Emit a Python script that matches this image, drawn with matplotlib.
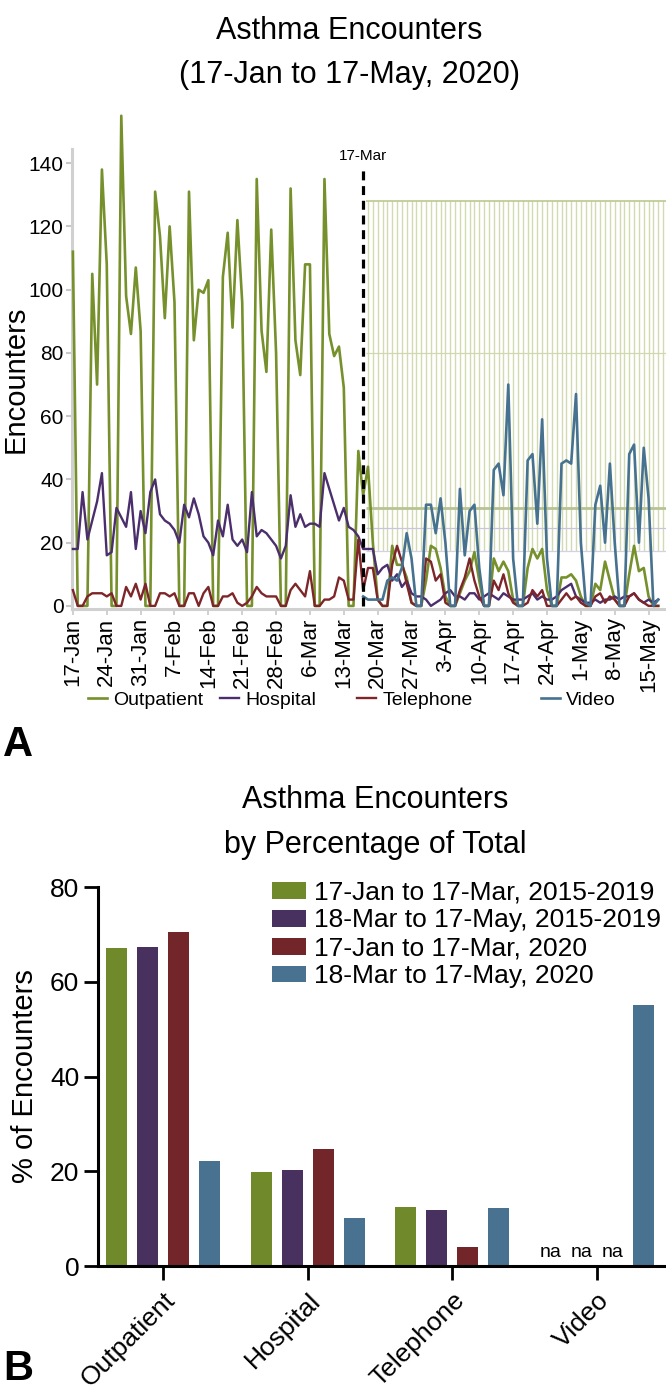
import numpy as np
import matplotlib
matplotlib.use("Agg")
import matplotlib.pyplot as plt

plt.rcParams['font.family'] = ['Liberation Sans', 'DejaVu Sans']

# Panel A: daily asthma encounters, day 0 = 17-Jan-2020, last day = 17-May-2020
outpatient = [112, 0, 0, 0, 105, 70, 138,
              108, 0, 0, 155, 98, 86, 107,
              87, 0, 0, 131, 117, 91, 120,
              96, 0, 0, 131, 84, 100, 99,
              103, 0, 0, 104, 118, 88, 122,
              96, 0, 0, 135, 87, 74, 119,
              80, 0, 0, 132, 84, 73, 108,
              108, 0, 0, 135, 86, 79, 82,
              69, 0, 0, 49, 35, 44, 20,
              2, 0, 0, 19, 13, 13, 9,
              1, 0, 0, 8, 19, 18, 12,
              3, 0, 0, 4, 8, 11, 17,
              8, 0, 0, 15, 11, 14, 11,
              2, 0, 0, 12, 18, 15, 18,
              5, 0, 0, 9, 9, 10, 8,
              3, 0, 0, 7, 5, 14, 8,
              2, 0, 0, 10, 19, 11, 12,
              3, 0, 0]
hospital = [18, 18, 36, 21, 27, 33, 42,
            16, 17, 31, 28, 25, 36, 18,
            30, 23, 36, 40, 29, 27, 26,
            24, 20, 32, 28, 34, 29, 22,
            20, 16, 27, 22, 32, 21, 19,
            21, 17, 36, 22, 24, 23, 21,
            19, 15, 19, 35, 25, 29, 25,
            26, 26, 25, 42, 37, 32, 27,
            31, 25, 24, 22, 18, 18, 18,
            10, 12, 13, 8, 10, 6, 8,
            4, 3, 3, 2, 0, 1, 2,
            4, 5, 3, 3, 2, 4, 4,
            2, 3, 4, 3, 2, 4, 3,
            2, 2, 2, 3, 4, 2, 3,
            2, 2, 3, 5, 6, 7, 3,
            2, 1, 1, 2, 1, 2, 2,
            3, 2, 3, 3, 4, 2, 1,
            2, 1, 2]
telephone = [5, 0, 0, 3, 4, 4, 4,
             3, 4, 0, 0, 6, 3, 7,
             2, 7, 0, 0, 4, 4, 3,
             4, 0, 0, 4, 4, 0, 4,
             6, 0, 0, 3, 3, 4, 1,
             0, 1, 3, 6, 4, 3, 3,
             3, 0, 0, 5, 7, 5, 3,
             11, 0, 0, 2, 2, 3, 9,
             8, 2, 2, 21, 5, 12, 12,
             2, 0, 0, 13, 19, 14, 7,
             1, 0, 0, 15, 14, 8, 10,
             1, 0, 0, 5, 9, 15, 8,
             3, 0, 0, 8, 5, 10, 4,
             1, 0, 0, 1, 5, 3, 5,
             0, 0, 0, 2, 4, 2, 3,
             1, 0, 0, 3, 4, 1, 3,
             2, 0, 0, 3, 4, 2, 1,
             0, 0, 0]
# video visits only exist from 17-Mar (day 60) on
video_start = 60
video = [3, 2, 2, 2, 2, 8, 9,
         8, 12, 23, 15, 0, 0, 32,
         32, 23, 34, 20, 0, 0, 37,
         16, 30, 32, 12, 0, 0, 43,
         45, 35, 70, 15, 0, 0, 46,
         48, 26, 59, 15, 0, 0, 45,
         46, 45, 67, 20, 1, 0, 32,
         38, 20, 45, 20, 0, 0, 48,
         51, 20, 50, 34, 0, 2]

tick_labels = ["17-Jan", "24-Jan", "31-Jan", "7-Feb", "14-Feb", "21-Feb", "28-Feb",
               "6-Mar", "13-Mar", "20-Mar", "27-Mar", "3-Apr", "10-Apr", "17-Apr",
               "24-Apr", "1-May", "8-May", "15-May"]

# Panel B: percentage of total encounters
categories = ["Outpatient", "Hospital", "Telephone", "Video"]
period_labels = ["17-Jan to 17-Mar, 2015-2019", "18-Mar to 17-May, 2015-2019",
                 "17-Jan to 17-Mar, 2020", "18-Mar to 17-May, 2020"]
pct_jan_mar_1519 = [67.2, 19.9, 12.5, np.nan]
pct_mar_may_1519 = [67.4, 20.3, 11.9, np.nan]
pct_jan_mar_2020 = [70.5, 24.8, 4.1, np.nan]
pct_mar_may_2020 = [22.1, 10.1, 12.2, 55.2]

green = '#76902c'
purple = '#4b2e6c'
red = '#7d2528'
blue = '#46728f'

fig = plt.figure(figsize=(6.66, 13.96), dpi=100)

# ---------------- panel A ----------------
ax = fig.add_axes([0.108, 0.5637, 0.892, 0.3296])
days = np.arange(len(outpatient))

# faint leftover grid on the right side of the original figure
ax.vlines(np.arange(61, 123), 17.3, 128, colors='#d2dab2', lw=1.0, zorder=0)
ax.hlines(128, 60.6, 123, colors='#b4c385', lw=1.1, zorder=0)
ax.hlines(80, 60.6, 123, colors='#cfd8ae', lw=0.9, zorder=0)
ax.hlines(31, 60.6, 123, colors='#b7c394', lw=2.0, zorder=0)
ax.hlines(24.5, 60.6, 123, colors='#cbc4de', lw=0.9, zorder=0)
ax.hlines(17.3, 60.6, 123, colors='#d5d0e4', lw=0.9, zorder=0)

lines = []
lines += ax.plot(days, outpatient, color=green, lw=1.9, label='Outpatient', zorder=3)
lines += ax.plot(days, hospital, color=purple, lw=1.7, label='Hospital', zorder=3)
lines += ax.plot(days, telephone, color=red, lw=1.7, label='Telephone', zorder=4)
lines += ax.plot(days[video_start:], video, color=blue, lw=1.9, label='Video', zorder=5)
for ln in lines:
    ln.set_clip_on(False)   # the 155 peak pokes above the axis in the original

# 17-Mar marker
ax.vlines(video_start, 0, 139, colors='black', lw=2.3, linestyles=(0, (2.8, 1.8)), zorder=6)
ax.text(video_start, 142.3, "17-Mar", ha='center', va='center', fontsize=11)

ax.set_xlim(-0.2, 122.6)
ax.set_ylim(-1, 144.5)
ax.set_yticks(np.arange(0, 141, 20))
ax.set_xticks(np.arange(0, 7 * len(tick_labels), 7))
ax.set_xticklabels(tick_labels, rotation=90)
ax.tick_params(axis='y', labelsize=15, color='#c8c8c8', length=4, width=1.5, pad=2)
ax.tick_params(axis='x', labelsize=16, color='#c8c8c8', length=4, width=1.2, pad=2)
for side in ['top', 'right']:
    ax.spines[side].set_visible(False)
for side in ['left', 'bottom']:
    ax.spines[side].set_color('#d0d0d0')
    ax.spines[side].set_linewidth(2.2)
ax.set_ylabel("Encounters", fontsize=21)
ax.yaxis.set_label_coords(-0.072, 0.5)

# one legend per entry so the uneven spacing of the original can be kept
legend_x = [88, 220, 357, 541]
for ln, lx in zip(lines, legend_x):
    fig.legend([ln], [ln.get_label()], loc='center left', bbox_to_anchor=(lx / 666, 0.4986),
               frameon=False, fontsize=14, handlelength=1.0, handletextpad=0.3,
               borderpad=0, borderaxespad=0)

fig.text(0.525, 0.978, "Asthma Encounters", ha='center', va='center', fontsize=22)
fig.text(0.525, 0.946, "(17-Jan to 17-May, 2020)", ha='center', va='center', fontsize=22)
fig.text(0.005, 0.466, "A", ha='left', va='center', fontsize=30, fontweight='bold')

# ---------------- panel B ----------------
bx = fig.add_axes([0.147, 0.0931, 0.853, 0.2715])
x = np.arange(len(categories))
pitch = 0.2145
width = 0.145
series = [pct_jan_mar_1519, pct_mar_may_1519, pct_jan_mar_2020, pct_mar_may_2020]
colors = ['#6f892b', '#48305f', '#732629', '#48728f']
for i, (vals, col, lab) in enumerate(zip(series, colors, period_labels)):
    pos = x + (i - 1.5) * pitch
    bx.bar(pos, np.nan_to_num(vals), width=width, color=col, label=lab)
    for p, v in zip(pos, vals):
        if np.isnan(v):
            bx.text(p, 1.0, "na", ha='center', va='bottom', fontsize=14)

bx.set_xlim(-0.453, 3.478)
bx.set_ylim(0, 80)
bx.set_yticks([0, 20, 40, 60, 80])
bx.set_xticks(x)
bx.set_xticklabels(categories, rotation=45, ha='right', rotation_mode='anchor')
bx.tick_params(axis='both', labelsize=19, length=10, width=2, color='black')
bx.tick_params(axis='x', pad=6)
for side in ['top', 'right']:
    bx.spines[side].set_visible(False)
for side in ['left', 'bottom']:
    bx.spines[side].set_linewidth(2.2)
bx.set_ylabel("% of Encounters", fontsize=21, labelpad=8)
bx.legend(loc='upper right', bbox_to_anchor=(1.01, 1.045), frameon=False, fontsize=19,
          handlelength=1.3, handleheight=0.6, handletextpad=0.3, labelspacing=0.15,
          borderaxespad=0)

fig.text(0.563, 0.427, "Asthma Encounters", ha='center', va='center', fontsize=22)
fig.text(0.563, 0.395, "by Percentage of Total", ha='center', va='center', fontsize=22)
fig.text(0.005, 0.019, "B", ha='left', va='center', fontsize=30, fontweight='bold')

fig.savefig("out.png", dpi=100)
